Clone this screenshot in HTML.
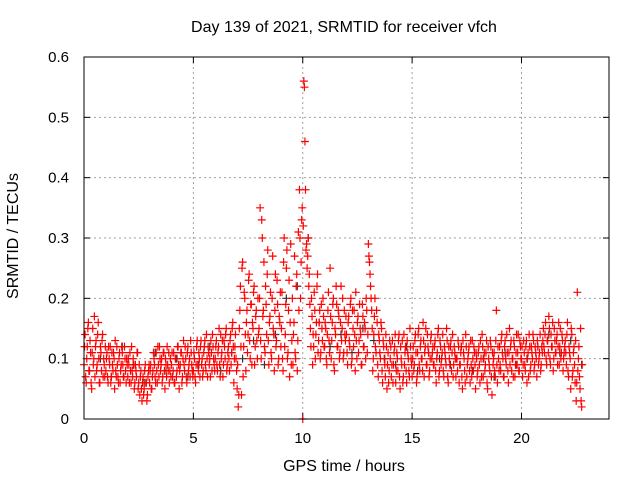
<!DOCTYPE html>
<html><head><meta charset="utf-8"><style>
body{margin:0;background:#fff;}
svg{display:block;font-family:"Liberation Sans",sans-serif;}
</style></head><body>
<svg id="chart" width="640" height="480">
<text x="344" y="32" text-anchor="middle" font-size="16">Day 139 of 2021, SRMTID for receiver vfch</text>
<text transform="translate(18,236) rotate(-90)" text-anchor="middle" font-size="16">SRMTID / TECUs</text>
<text x="344" y="471" text-anchor="middle" font-size="16">GPS time / hours</text>
<g id="grid"></g>
<g id="ticks"></g>
<g id="black"></g>
<g id="red"></g>
<rect x="84" y="57" width="525" height="362" fill="none" stroke="#000" stroke-width="1"/>
</svg>
<script>
const xTicks=[0,5,10,15,20];
const yTicks=[0,0.1,0.2,0.3,0.4,0.5,0.6];
const yTickLabels=["0","0.1","0.2","0.3","0.4","0.5","0.6"];
const redStartHour=0;
const redStepHour=0.05;
const redCentiTecu=[
9,14,6,12,16,8,11,5,15,10,7,13,9,16,6,12,8,14,10,7,
8,11,6,10,12,7,9,11,5,8,12,7,10,6,9,11,7,12,8,10,
7,9,11,6,8,10,5,9,7,11,6,4,8,3,7,5,9,6,4,8,
6,9,5,8,10,7,11,6,9,12,8,10,7,11,5,9,12,8,6,10,
9,7,11,6,10,8,12,5,9,11,7,13,8,10,6,12,9,7,11,8,
8,10,6,12,9,11,7,13,10,8,12,9,14,7,11,10,13,8,12,9,
10,13,8,12,9,14,11,7,13,10,15,9,12,8,14,11,16,6,12,10,
5,2,15,22,4,26,12,20,8,18,14,24,10,19,16,21,9,17,13,20,
15,35,10,30,18,12,22,14,28,9,17,11,20,15,8,24,13,19,10,16,
12,21,8,30,14,25,10,18,7,29,13,9,16,11,22,8,31,38,20,33,
0,56,46,28,25,30,24,15,20,9,12,18,14,22,11,16,10,19,13,17,
12,15,9,18,13,25,10,16,20,8,14,19,12,17,11,22,15,10,18,13,
14,9,17,12,20,10,15,18,8,13,16,11,19,14,9,17,12,15,20,11,
29,26,22,18,8,14,20,11,16,7,13,10,15,6,12,9,14,5,11,8,
10,7,13,9,12,6,11,8,14,5,10,13,7,9,12,6,11,8,15,10,
7,12,9,14,6,11,15,8,13,10,16,7,12,9,14,11,8,13,10,12,
9,13,6,11,15,8,12,10,14,7,11,9,13,6,10,12,8,14,9,11,
7,10,13,6,9,12,5,11,8,14,7,10,12,6,9,13,8,11,5,10,
8,12,6,10,14,7,11,9,13,5,10,8,12,4,9,11,7,18,6,10,
12,8,14,10,7,13,9,11,6,15,12,8,10,13,7,11,9,14,8,12,
10,7,13,9,12,6,11,14,8,12,10,13,9,11,7,12,10,14,9,11,
15,11,16,9,13,17,10,14,12,8,15,11,13,9,16,12,10,14,8,11,
13,9,16,7,11,5,14,8,12,6,3,21,10,7,15,2];
const red2StartHour=0.025;
const red2StepHour=0.05;
const red2CentiTecu=[
12,7,10,15,8,13,6,11,9,17,12,8,14,10,6,11,13,7,9,12,
10,7,12,9,6,11,8,10,13,7,9,6,11,8,12,9,7,10,6,9,
10,6,8,12,7,9,6,8,11,5,9,7,5,6,4,8,6,3,7,9,
8,5,7,11,9,6,8,12,7,10,9,6,11,8,10,7,9,11,8,7,
11,8,6,10,7,12,9,8,11,6,10,9,12,7,11,8,10,13,9,7,
11,7,9,13,8,10,12,9,7,11,13,8,10,12,9,7,11,14,10,8,
12,9,11,15,7,10,13,9,12,14,8,11,10,13,9,15,12,10,14,8,
9,4,18,12,25,7,21,14,16,11,23,13,19,9,15,22,12,18,10,14,
20,13,33,17,26,11,19,24,13,16,21,10,27,14,18,12,23,9,17,21,
15,10,26,12,19,28,11,23,16,9,20,14,27,10,24,13,18,30,26,35,
32,55,38,29,27,22,19,12,17,14,21,10,16,24,13,18,11,15,20,12,
16,10,14,21,11,17,13,19,9,15,22,12,18,10,16,13,20,11,14,17,
11,16,13,19,9,18,12,14,21,10,17,13,15,9,19,12,16,10,18,14,
27,24,20,15,10,17,12,18,9,14,11,16,8,13,10,7,12,9,6,13,
12,9,6,11,14,8,10,13,7,12,9,6,14,11,8,13,10,7,12,9,
10,8,13,11,7,14,9,12,10,8,13,11,15,9,12,7,10,14,11,9,
12,8,10,14,7,13,9,11,8,12,10,15,7,12,9,13,11,7,12,10,
10,8,12,9,11,7,13,10,6,12,9,11,8,13,7,10,12,9,11,7,
11,9,13,7,12,10,8,11,6,12,9,13,7,11,10,8,13,9,12,8,
9,13,11,7,12,10,14,8,11,9,13,10,7,12,9,14,11,8,13,10,
12,9,11,8,13,10,7,12,9,11,14,8,12,10,13,9,11,8,12,13,
12,14,10,13,11,15,9,12,16,10,13,11,14,12,9,15,11,13,10,12,
11,14,8,12,10,15,7,11,9,13,6,8,12,5,3,9];
const blackStartHour=0.25;
const blackStepHour=0.5;
const blackCentiTecu=[8,10,7,12,9,6,11,8,10,7,9,12,8,11,10,13,9,14,20,22,30,16,12,14,11,15,13,10,9,12,8,11,10,9,12,8,10,7,11,9,10,12,14,11,13,9];

const X0=84,X1=609,Y0=419,Y1=57;
const xs=h=>X0+(h/24)*(X1-X0);
const ys=v=>Y0-(v/0.6)*(Y0-Y1);
const NS="http://www.w3.org/2000/svg";
function mk(tag,attrs,parent){const e=document.createElementNS(NS,tag);for(const k in attrs)e.setAttribute(k,attrs[k]);parent.appendChild(e);return e;}
const grid=document.getElementById('grid'),ticks=document.getElementById('ticks');
xTicks.forEach(t=>{
  const x=xs(t);
  if(t>0){const g=mk('line',{x1:x,x2:x,y1:Y0,y2:Y1,stroke:'#a0a0a0','stroke-dasharray':'2,3'},grid);
  
  }
  mk('line',{x1:x,x2:x,y1:Y0,y2:Y0-6,stroke:'#000'},ticks);
  mk('line',{x1:x,x2:x,y1:Y1,y2:Y1+6,stroke:'#000'},ticks);
  const l=mk('text',{x:x,y:Y0+24,'text-anchor':'middle','font-size':'15'},ticks);
  l.textContent=t;
  
  
});
yTicks.forEach((t,i)=>{
  const y=ys(t);
  if(t>0&&t<0.6){const g=mk('line',{x1:X0,x2:X1,y1:y,y2:y,stroke:'#a0a0a0','stroke-dasharray':'2,3'},grid);
  
  }
  mk('line',{x1:X0,x2:X0+6,y1:y,y2:y,stroke:'#000'},ticks);
  mk('line',{x1:X1,x2:X1-6,y1:y,y2:y,stroke:'#000'},ticks);
  const l=mk('text',{x:X0-15,y:y+5,'text-anchor':'end','font-size':'15'},ticks);
  l.textContent=yTickLabels[i];
  
  
});
function plus(parent,h,v,color,name){
  const x=xs(h),y=ys(v);
  const p=mk('path',{d:`M${x-4} ${y}H${x+4}M${x} ${y-4}V${y+4}`,stroke:color,'stroke-width':'1.2',fill:'none'},parent);
  
  
}
const blk=document.getElementById('black');
blackCentiTecu.forEach((v,i)=>plus(blk,blackStartHour+i*blackStepHour,v/100,'#333','black-point'));
const red=document.getElementById('red');
redCentiTecu.forEach((v,i)=>plus(red,redStartHour+i*redStepHour,v/100,'#ff0000','red-point'));
red2CentiTecu.forEach((v,i)=>plus(red,red2StartHour+i*red2StepHour,v/100,'#ff0000','red-point'));
</script>
</body></html>
